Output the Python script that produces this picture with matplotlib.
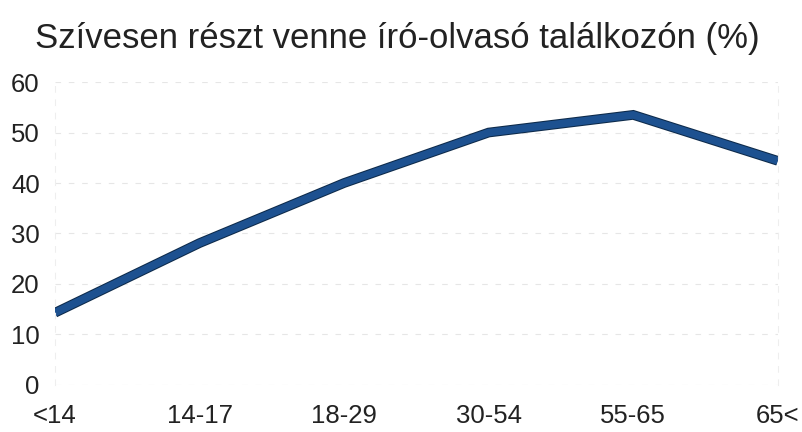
import matplotlib.pyplot as plt
import matplotlib.patheffects as pe

plt.rcParams['font.family'] = ['Liberation Sans', 'DejaVu Sans']

age_groups = ['<14', '14-17', '18-29', '30-54', '55-65', '65<']
share_pct = [14.3, 28.1, 40.0, 50.0, 53.5, 44.4]
y_ticks = [0, 10, 20, 30, 40, 50, 60]

fig = plt.figure(figsize=(8.03, 4.32), dpi=100)
ax = fig.add_axes([0.0685, 0.109, 0.9, 0.701])

x = range(len(age_groups))
ax.plot(x, share_pct, color='#1d5190', linewidth=5.5, solid_capstyle='butt',
        solid_joinstyle='miter',
        path_effects=[pe.Stroke(linewidth=7, foreground='#0d2a4a'), pe.Normal()])

ax.set_xlim(0, len(age_groups) - 1)
ax.set_ylim(0, 60)
ax.set_yticks(y_ticks)
ax.set_xticks(list(x))
ax.set_xticklabels(age_groups)
ax.grid(True, axis='y', color='#e6e6e6', linewidth=0.8, linestyle=(0, (5, 7)))
ax.set_axisbelow(True)
for s in ax.spines.values():
    s.set_visible(False)
for side in ('left', 'right'):
    ax.spines[side].set_visible(True)
    ax.spines[side].set_color('#eeeeee')
    ax.spines[side].set_linestyle((0, (5, 7)))
    ax.spines[side].set_linewidth(0.8)
ax.tick_params(length=0, labelsize=18.5, colors='#222222')
ax.tick_params(axis='x', pad=14)
ax.tick_params(axis='y', pad=11)

fig.text(0.495, 0.912, 'Szívesen részt venne író-olvasó találkozón (%)',
         ha='center', va='center', fontsize=25, color='#222222')

fig.savefig('out.png', dpi=100)
